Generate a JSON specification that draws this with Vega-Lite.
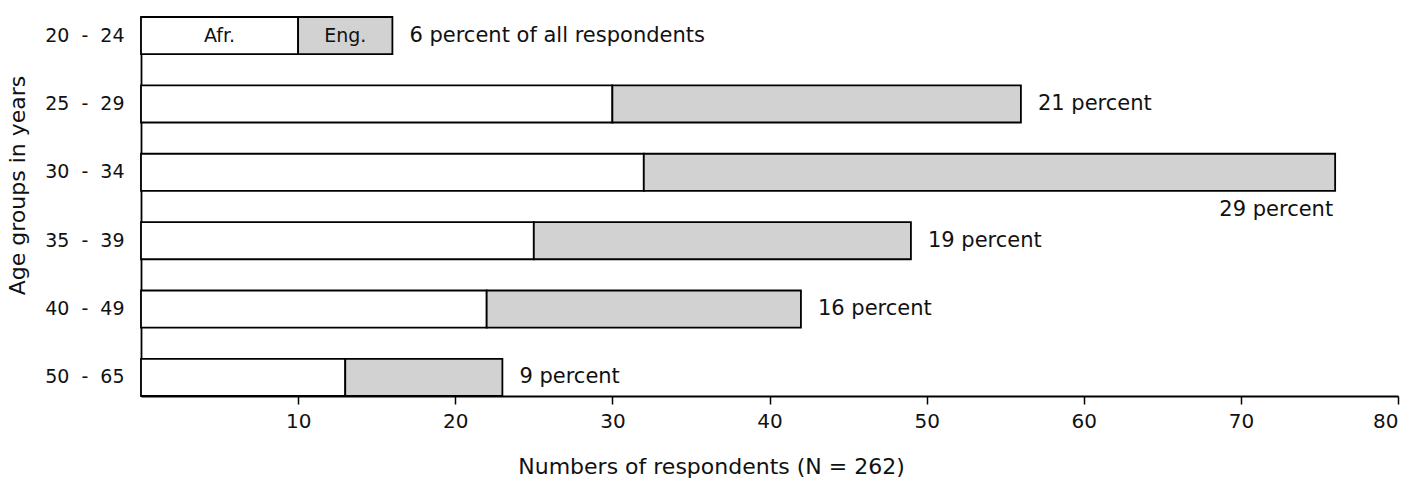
{
  "$schema": "https://vega.github.io/schema/vega-lite/v6.json",
  "width": 1257,
  "height": 379,
  "autosize": {"type": "none"},
  "padding": {"left": 141, "top": 17, "right": 20, "bottom": 91},
  "background": "white",
  "config": {
    "view": {"stroke": null},
    "font": "DejaVu Sans",
    "axis": {
      "grid": false,
      "domainColor": "black",
      "domainWidth": 1.8,
      "tickColor": "black",
      "tickWidth": 1.5,
      "labelColor": "#111111",
      "titleColor": "#111111",
      "labelFont": "DejaVu Sans",
      "titleFont": "DejaVu Sans",
      "titleFontWeight": "normal"
    }
  },
  "datasets": {
    "bars": [
      {"age": "20 - 24", "lang": "Afr.", "n": 10},
      {"age": "20 - 24", "lang": "Eng.", "n": 6},
      {"age": "25 - 29", "lang": "Afr.", "n": 30},
      {"age": "25 - 29", "lang": "Eng.", "n": 26},
      {"age": "30 - 34", "lang": "Afr.", "n": 32},
      {"age": "30 - 34", "lang": "Eng.", "n": 44},
      {"age": "35 - 39", "lang": "Afr.", "n": 25},
      {"age": "35 - 39", "lang": "Eng.", "n": 24},
      {"age": "40 - 49", "lang": "Afr.", "n": 22},
      {"age": "40 - 49", "lang": "Eng.", "n": 20},
      {"age": "50 - 65", "lang": "Afr.", "n": 13},
      {"age": "50 - 65", "lang": "Eng.", "n": 10}
    ],
    "totals": [
      {"age": "20 - 24", "total": 16, "label": "6 percent of all respondents"},
      {"age": "25 - 29", "total": 56, "label": "21 percent"},
      {"age": "30 - 34", "total": 76, "label": "29 percent"},
      {"age": "35 - 39", "total": 49, "label": "19 percent"},
      {"age": "40 - 49", "total": 42, "label": "16 percent"},
      {"age": "50 - 65", "total": 23, "label": "9 percent"}
    ]
  },
  "encoding": {
    "y": {
      "field": "age",
      "type": "nominal",
      "sort": ["20 - 24", "25 - 29", "30 - 34", "35 - 39", "40 - 49", "50 - 65"],
      "scale": {"paddingInner": 0.457, "paddingOuter": 0},
      "axis": {
        "title": "Age groups in years",
        "titleFontSize": 22,
        "titleAngle": -90,
        "titleBaseline": "alphabetic",
        "titleX": -117,
        "titleY": 168,
        "ticks": false,
        "labelFontSize": 19,
        "labelPadding": 17,
        "labelExpr": "replace(datum.label, ' - ', '\u00a0\u00a0-\u00a0\u00a0')"
      }
    }
  },
  "layer": [
    {
      "data": {"name": "bars"},
      "mark": {"type": "bar", "stroke": "black", "strokeWidth": 1.8},
      "encoding": {
        "x": {
          "field": "n",
          "type": "quantitative",
          "stack": "zero",
          "scale": {"domain": [0, 80], "nice": false},
          "axis": {
            "values": [10, 20, 30, 40, 50, 60, 70, 80],
            "tickSize": 8,
            "labelPadding": 7,
            "labelFontSize": 20,
            "title": "Numbers of respondents (N = 262)",
            "titleFontSize": 22,
            "titleBaseline": "top",
            "titleX": 570,
            "titleY": 60
          }
        },
        "color": {
          "field": "lang",
          "type": "nominal",
          "scale": {"domain": ["Afr.", "Eng."], "range": ["#ffffff", "#d2d2d2"]},
          "legend": null
        },
        "order": {"field": "lang", "sort": "ascending"}
      }
    },
    {
      "data": {"name": "bars"},
      "transform": [
        {"filter": "datum.age === '20 - 24'"},
        {"stack": "n", "groupby": ["age"], "sort": [{"field": "lang"}], "as": ["v0", "v1"]},
        {"calculate": "(datum.v0 + datum.v1) / 2", "as": "mid"}
      ],
      "mark": {"type": "text", "fontSize": 19, "color": "#111111", "baseline": "middle", "align": "center"},
      "encoding": {
        "x": {"field": "mid", "type": "quantitative"},
        "text": {"field": "lang"}
      }
    },
    {
      "data": {"name": "totals"},
      "transform": [{"filter": "datum.age !== '30 - 34'"}],
      "mark": {"type": "text", "fontSize": 21, "color": "#111111", "baseline": "middle", "align": "left", "dx": 17},
      "encoding": {
        "x": {"field": "total", "type": "quantitative"},
        "text": {"field": "label"}
      }
    },
    {
      "data": {"name": "totals"},
      "transform": [{"filter": "datum.age === '30 - 34'"}],
      "mark": {"type": "text", "fontSize": 21, "color": "#111111", "baseline": "middle", "align": "right", "dx": -2, "dy": 38},
      "encoding": {
        "x": {"field": "total", "type": "quantitative"},
        "text": {"field": "label"}
      }
    }
  ]
}
